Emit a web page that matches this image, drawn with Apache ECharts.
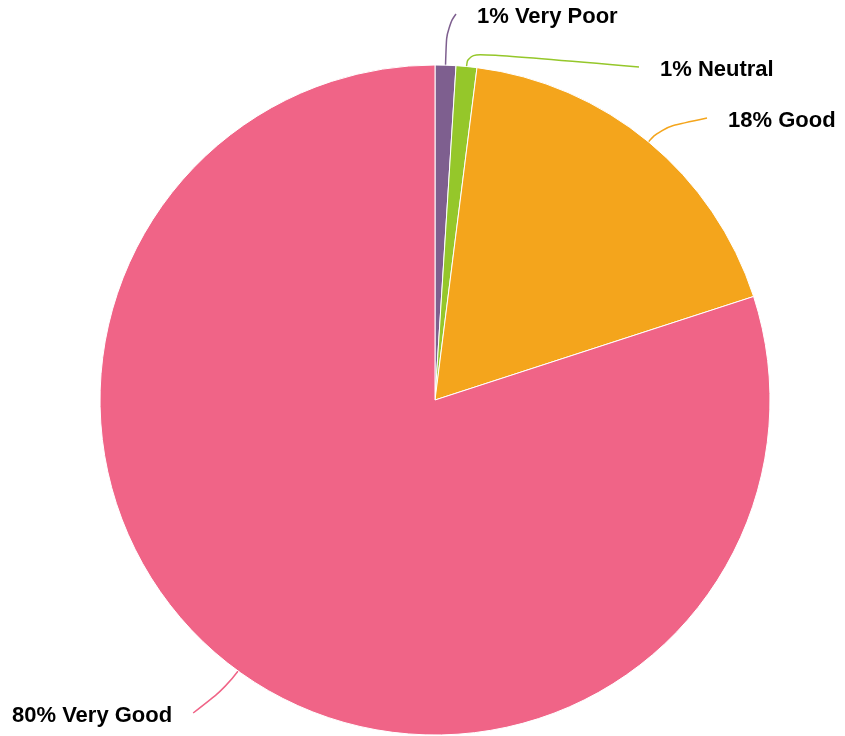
<!DOCTYPE html>
<html>
<head>
<meta charset="utf-8">
<script src="https://cdn.jsdelivr.net/npm/echarts@6/dist/echarts.min.js"></script>
<style>
  html, body { margin: 0; padding: 0; background: #ffffff; }
  #chart { width: 845px; height: 736px; }
</style>
</head>
<body>
<div id="chart"></div>
<script>
// Rating distribution
const categories = ['Very Poor', 'Neutral', 'Good', 'Very Good'];
const shares = [1, 1, 18, 80];
const sliceColors = ['#7E5F8F', '#95C72A', '#F4A51C', '#F06487'];

// Label anchor (text edge x, vertical centre y), side and first-leg length of its leader
const labelSpots = [
  { x: 477, y: 17, side: 'right', leg: 38 },
  { x: 660, y: 70, side: 'right', leg: 14 },
  { x: 728, y: 121, side: 'right', leg: 18 },
  { x: 12, y: 716, side: 'left', leg: 20 }
];
const GAP = 21;

const CX = 435, CY = 400, R = 335;
const total = shares.reduce((a, b) => a + b, 0);

// Mid angle (radians, clockwise from 12 o'clock) of each slice
function midAngle(i) {
  let before = 0;
  for (let k = 0; k < i; k++) before += shares[k];
  return (before + shares[i] / 2) / total * Math.PI * 2;
}

const chart = echarts.init(document.getElementById('chart'), null, { renderer: 'canvas' });

chart.setOption({
  animation: false,
  series: [{
    type: 'pie',
    center: [CX, CY],
    radius: R,
    startAngle: 90,
    clockwise: true,
    itemStyle: { borderColor: '#ffffff', borderWidth: 1 },
    label: {
      show: true,
      formatter: p => p.value + '% ' + p.name,
      fontFamily: 'Liberation Sans, Arial, sans-serif',
      fontWeight: 'bold',
      fontSize: 22,
      color: '#000000',
      overflow: 'none'
    },
    labelLine: {
      show: true,
      smooth: 0.55,
      length: 15,
      length2: 20,
      lineStyle: { width: 1.5 }
    },
    labelLayout: function (params) {
      const i = params.dataIndex;
      const s = labelSpots[i];
      const a = midAngle(i);
      const dx = Math.sin(a), dy = -Math.cos(a);
      const p0 = [CX + dx * R, CY + dy * R];
      const p1 = [p0[0] + dx * s.leg, p0[1] + dy * s.leg];
      const w = params.labelRect.width;
      const p2 = s.side === 'right' ? [s.x - GAP, s.y - 3] : [s.x + w + GAP, s.y - 3];
      return {
        x: s.x, y: s.y, align: 'left', verticalAlign: 'middle',
        labelLinePoints: [p0, p1, p2]
      };
    },
    data: categories.map((c, i) => ({
      name: c,
      value: shares[i],
      itemStyle: { color: sliceColors[i] },
      labelLine: { lineStyle: { color: sliceColors[i] } }
    }))
  }]
});
</script>
</body>
</html>
